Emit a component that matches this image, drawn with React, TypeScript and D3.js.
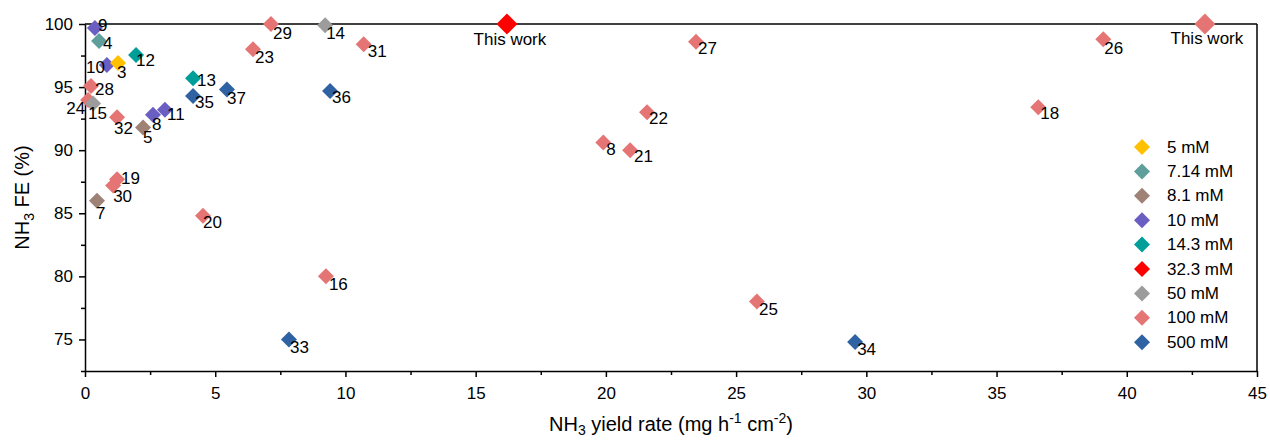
import { useRef, useEffect } from "react";
import * as d3 from "d3";

// legend groups (electrolyte concentration)
const concentrations = ["5 mM", "7.14 mM", "8.1 mM", "10 mM", "14.3 mM", "32.3 mM", "50 mM", "100 mM", "500 mM"];
const concColors = ["#FFC000", "#5E9E9B", "#9E8276", "#6A5EC2", "#009E98", "#FF0000", "#9C9C9C", "#E57474", "#2E62A2"];

// reference numbers, yield rate (mg h-1 cm-2), FE (%), concentration
const pointLabels = ["9", "4", "10", "3", "12", "28", "24", "15", "32", "5", "8", "11", "13", "35", "37", "29", "14", "23", "31", "36",
    "This work", "27", "22", "8", "21", "26", "This work", "18", "19", "30", "7", "20", "16", "25", "33", "34"];
const yieldRates = [0.38, 0.54, 0.84, 1.27, 1.96, 0.23, 0.12, 0.31, 1.23, 2.23, 2.61, 3.07, 4.15, 4.15, 5.45, 7.14, 9.22, 6.45, 10.7, 9.41,
    16.2, 23.46, 21.58, 19.9, 20.93, 39.1, 43.0, 36.6, 1.23, 1.08, 0.46, 4.53, 9.25, 25.8, 7.83, 29.57];
const feValues = [99.68, 98.65, 96.75, 96.9, 97.54, 95.08, 93.97, 93.7, 92.6, 91.8, 92.8, 93.2, 95.7, 94.3, 94.8, 100, 99.9, 98.0, 98.4, 94.7,
    100, 98.6, 93.0, 90.6, 90.0, 98.8, 100, 93.4, 87.7, 87.2, 86.0, 84.8, 80.0, 78.0, 75.0, 74.8];
const pointConc = ["10 mM", "7.14 mM", "10 mM", "5 mM", "14.3 mM", "100 mM", "100 mM", "50 mM", "100 mM", "8.1 mM", "10 mM", "10 mM",
    "14.3 mM", "500 mM", "500 mM", "100 mM", "50 mM", "100 mM", "100 mM", "500 mM", "32.3 mM", "100 mM", "100 mM", "100 mM", "100 mM",
    "100 mM", "100 mM", "100 mM", "100 mM", "100 mM", "8.1 mM", "100 mM", "100 mM", "100 mM", "500 mM", "500 mM"];

const xTicks = [0, 5, 10, 15, 20, 25, 30, 35, 40, 45];
const yTicks = [75, 80, 85, 90, 95, 100];

// label placement relative to marker (dx, dy to text centre, anchor)
const labelLayout = {
    0: [3, -3, "start"], 1: [4, 2, "start"], 2: [-2, 2, "end"], 3: [-1, 9, "start"], 4: [0, 5, "start"], 5: [4, 3, "start"],
    6: [-3, 8, "end"], 7: [-5, 10, "start"], 8: [-3, 11, "start"], 9: [0, 10, "start"], 10: [-1, 10, "start"], 11: [2, 5, "start"],
    12: [4, 2, "start"], 13: [2, 7, "start"], 14: [0, 9, "start"], 15: [2, 9, "start"], 16: [1, 8, "start"], 17: [2, 8, "start"],
    18: [4, 7, "start"], 19: [2, 7, "start"], 20: [3, 15, "middle"], 21: [2, 7, "start"], 22: [2, 6, "start"], 23: [3, 7, "start"],
    24: [4, 6, "start"], 25: [1, 9, "start"], 26: [2, 14, "middle"], 27: [2, 6, "start"], 28: [4, -1, "start"], 29: [0, 11, "start"],
    30: [-1, 13, "start"], 31: [0, 7, "start"], 32: [3, 8, "start"], 33: [2, 8, "start"], 34: [1, 8, "start"], 35: [2, 8, "start"],
};

const FONT = "Arial, 'Liberation Sans', sans-serif";

const App = () => {
    const svgRef = useRef(null);
    const W = 1270;
    const H = 441;

    useEffect(() => {
        const m = { top: 24, left: 85, right: 13, bottom: 70 };
        const width = W - m.left - m.right;
        const height = H - m.top - m.bottom;

        const svg = d3.select(svgRef.current);
        svg.selectAll("*").remove();

        const x = d3.scaleLinear().domain([0, 45]).range([0, width]);
        const y = d3.scaleLinear().domain([72.5, 100]).range([height, 0]);
        const color = d3.scaleOrdinal().domain(concentrations).range(concColors);

        const g = svg.append("g").attr("transform", `translate(${m.left},${m.top})`);

        // minor ticks
        g.append("g")
            .attr("transform", `translate(0,${height})`)
            .call(d3.axisBottom(x).tickValues(d3.range(2.5, 45, 5)).tickSize(4).tickFormat(() => ""))
            .call(a => a.select(".domain").remove());
        g.append("g")
            .call(d3.axisLeft(y).tickValues([72.5, 77.5, 82.5, 87.5, 92.5, 97.5]).tickSize(4).tickFormat(() => ""))
            .call(a => a.select(".domain").remove());

        // major axes
        const xAxis = g.append("g")
            .attr("transform", `translate(0,${height})`)
            .call(d3.axisBottom(x).tickValues(xTicks).tickSize(6).tickSizeOuter(0).tickPadding(10));
        const yAxis = g.append("g")
            .call(d3.axisLeft(y).tickValues(yTicks).tickSize(6).tickSizeOuter(0).tickPadding(6));
        [xAxis, yAxis].forEach(a => {
            a.selectAll("text").attr("font-family", FONT).attr("font-size", 17).attr("fill", "#000");
            a.selectAll("line").attr("stroke", "#000").attr("stroke-width", 1.5);
            a.select(".domain").attr("stroke", "#000").attr("stroke-width", 1.5);
        });
        g.selectAll("line").attr("stroke", "#000").attr("stroke-width", 1.5);

        // frame top / right
        g.append("line").attr("x1", 0).attr("x2", width).attr("y1", 0).attr("y2", 0)
            .attr("stroke", "#000").attr("stroke-width", 1.5);
        g.append("line").attr("x1", width).attr("x2", width).attr("y1", 0).attr("y2", height)
            .attr("stroke", "#000").attr("stroke-width", 1.5);

        const small = d3.symbol().type(d3.symbolSquare).size(128);
        const big = d3.symbol().type(d3.symbolSquare).size(220);

        const idx = d3.range(pointLabels.length);
        g.selectAll(".pt")
            .data(idx)
            .join("path")
            .attr("class", "pt")
            .attr("d", i => (pointLabels[i] === "This work" ? big() : small()))
            .attr("transform", i => `translate(${x(yieldRates[i])},${y(feValues[i])}) rotate(45)`)
            .attr("fill", i => color(pointConc[i]));

        g.selectAll(".lbl")
            .data(idx)
            .join("text")
            .attr("class", "lbl")
            .attr("x", i => x(yieldRates[i]) + labelLayout[i][0])
            .attr("y", i => y(feValues[i]) + labelLayout[i][1])
            .attr("text-anchor", i => labelLayout[i][2])
            .attr("dominant-baseline", "central")
            .attr("font-family", FONT)
            .attr("font-size", 17)
            .attr("fill", "#000")
            .text(i => pointLabels[i]);

        // legend
        const leg = g.append("g").attr("transform", `translate(${width - 115},${123})`);
        concentrations.forEach((c, i) => {
            const row = leg.append("g").attr("transform", `translate(0,${i * 24.4})`);
            row.append("path").attr("d", small()).attr("transform", "rotate(45)").attr("fill", concColors[i]);
            row.append("text")
                .attr("x", 25)
                .attr("dominant-baseline", "central")
                .attr("font-family", FONT)
                .attr("font-size", 17)
                .text(c);
        });

        // axis titles
        const xt = svg.append("text")
            .attr("x", m.left + width / 2)
            .attr("y", 431)
            .attr("text-anchor", "middle")
            .attr("font-family", FONT)
            .attr("font-size", 20);
        xt.append("tspan").text("NH");
        xt.append("tspan").attr("font-size", 14).attr("dy", 4).text("3");
        xt.append("tspan").attr("dy", -4).text(" yield rate (mg h");
        xt.append("tspan").attr("font-size", 14).attr("dy", -8).text("-1");
        xt.append("tspan").attr("dy", 8).text(" cm");
        xt.append("tspan").attr("font-size", 14).attr("dy", -8).text("-2");
        xt.append("tspan").attr("dy", 8).text(")");

        const yt = svg.append("text")
            .attr("transform", `translate(29,${m.top + height / 2}) rotate(-90)`)
            .attr("text-anchor", "middle")
            .attr("font-family", FONT)
            .attr("font-size", 20);
        yt.append("tspan").text("NH");
        yt.append("tspan").attr("font-size", 14).attr("dy", 5).text("3");
        yt.append("tspan").attr("dy", -5).text(" FE (%)");
    }, []);

    return (
        <svg ref={svgRef} width={W} height={H}
            style={{ position: "absolute", left: 0, top: 0, background: "#fff" }}></svg>
    );
};

export default App;
